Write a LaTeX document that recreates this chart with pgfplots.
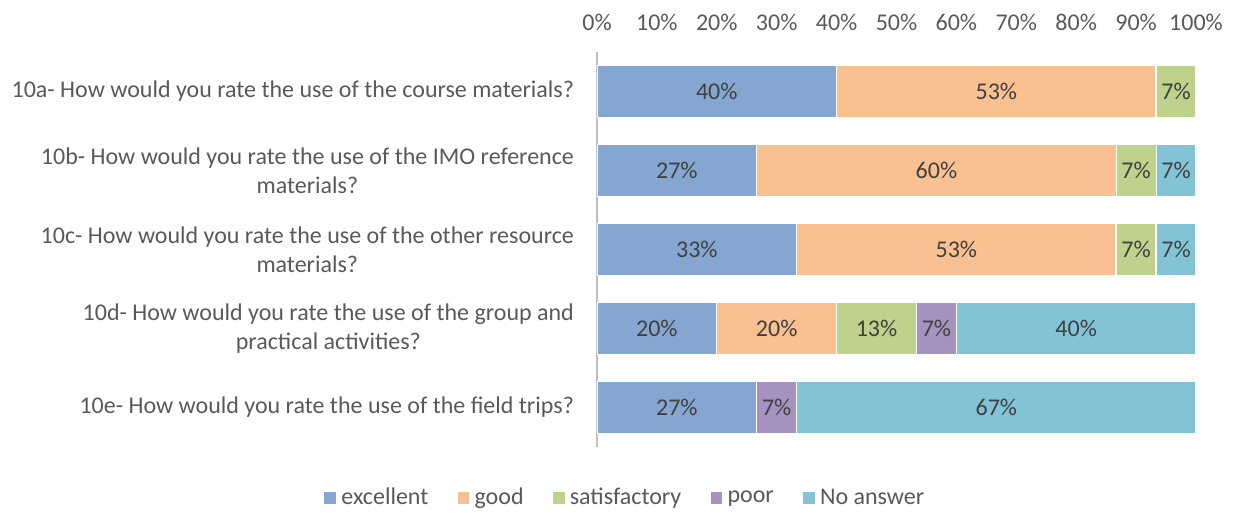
\documentclass[border=0pt]{standalone}
\usepackage{fontspec}
\setmainfont{Carlito}
\usepackage{pgfplots}
\pgfplotsset{compat=1.18}

\definecolor{cEx}{HTML}{84A6D1}
\definecolor{cGood}{HTML}{F9C091}
\definecolor{cSat}{HTML}{BED28C}
\definecolor{cPoor}{HTML}{A692C0}
\definecolor{cNA}{HTML}{82C4D6}
\definecolor{txt}{HTML}{595959}
\definecolor{val}{HTML}{404040}

\begin{document}
\begin{tikzpicture}
\useasboundingbox (-298.5pt,-33pt) rectangle (319.5pt,223.5pt);
\pgfplotsset{base/.style={
    scale only axis, width=299.5pt, height=197.5pt,
    xmin=0, xmax=100, ymin=-0.5, ymax=4.5,
    at={(0,0)}, anchor=south west}}
\begin{axis}[base,
    xbar stacked, bar width=26pt,
    axis x line*=top, axis y line*=left,
    x axis line style={draw=none},
    y axis line style={draw=black!25, line width=0.8pt},
    xtick={0,10,...,100},
    xticklabels={0\%,10\%,20\%,30\%,40\%,50\%,60\%,70\%,80\%,90\%,100\%},
    xticklabel style={yshift=7pt, text=txt, font=\fontsize{12}{14.5}\selectfont},
    ytick={0,1,2,3,4},
    yticklabels={{10e- How would you rate the use of the field trips?},
        {10d- How would you rate the use of the group and\\practical activities?},
        {10c- How would you rate the use of the other resource\\materials?},
        {10b- How would you rate the use of the IMO reference\\materials?},
        {10a- How would you rate the use of the course materials?}},
    yticklabel style={align=center, xshift=-8pt, text=txt, font=\fontsize{12}{14.5}\selectfont},
    major tick length=0pt,
    legend style={at={(0.048,-0.129)}, anchor=center, legend columns=-1,
        draw=none, fill=none, text=txt, font=\fontsize{12}{14.5}\selectfont,
        /tikz/every even column/.append style={column sep=12pt}},
    legend image code/.code={\fill[#1] (0pt,-3.25pt) rectangle (6.5pt,3.25pt);},
]
\addplot[fill=cEx, draw=white, line width=0.6pt] coordinates
    {(40,4) (26.67,3) (33.33,2) (20,1) (26.67,0)};
\addlegendentry{excellent}
\addplot[fill=cGood, draw=white, line width=0.6pt] coordinates
    {(53.33,4) (60,3) (53.33,2) (20,1) (0,0)};
\addlegendentry{good}
\addplot[fill=cSat, draw=white, line width=0.6pt] coordinates
    {(6.67,4) (6.67,3) (6.67,2) (13.33,1) (0,0)};
\addlegendentry{satisfactory}
\addplot[fill=cPoor, draw=white, line width=0.6pt] coordinates
    {(0,4) (0,3) (0,2) (6.67,1) (6.67,0)};
\addlegendentry{poor}
\addplot[fill=cNA, draw=white, line width=0.6pt] coordinates
    {(0,4) (6.67,3) (6.67,2) (40,1) (66.67,0)};
\addlegendentry{No answer}
\end{axis}
% value labels, centred in each segment
\begin{axis}[base, hide axis]
\addplot[draw=none, mark=none, nodes near coords, point meta=explicit symbolic,
    every node near coord/.append style={anchor=center, text=val,
        font=\fontsize{12}{14.5}\selectfont}] coordinates {
    (20,4)[40\%] (66.67,4)[53\%] (96.67,4)[7\%]
    (13.33,3)[27\%] (56.67,3)[60\%] (90,3)[7\%] (96.67,3)[7\%]
    (16.67,2)[33\%] (60,2)[53\%] (90,2)[7\%] (96.67,2)[7\%]
    (10,1)[20\%] (30,1)[20\%] (46.67,1)[13\%] (56.67,1)[7\%] (80,1)[40\%]
    (13.33,0)[27\%] (30,0)[7\%] (66.67,0)[67\%]};
\end{axis}
\end{tikzpicture}
\end{document}
